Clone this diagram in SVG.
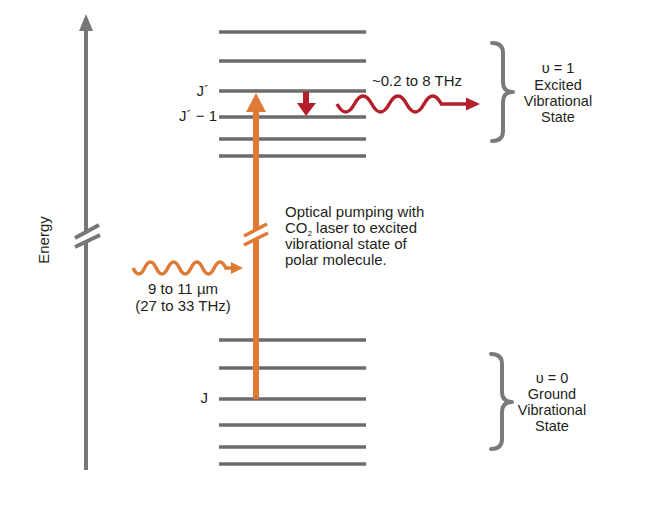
<svg xmlns="http://www.w3.org/2000/svg" width="650" height="525" viewBox="0 0 650 525">
<style>
.lvl{stroke:#6b6b6b;stroke-width:3.5;fill:none}
.ax{stroke:#777;stroke-width:4;fill:none}
.br{stroke:#7a7a7a;stroke-width:4;fill:none;stroke-linecap:round;stroke-linejoin:round}
.t{font-family:"Liberation Sans",Arial,sans-serif;font-size:15px;fill:#231f20}
.s{font-size:14.5px}
.c{text-anchor:middle}
.e{text-anchor:end}
.or{stroke:#de7a34;fill:none}
.rd{stroke:#b51f2c;fill:none}
</style>
<rect width="650" height="525" fill="#fff"/>
<g id="energy-axis">
<line class="ax" x1="86" y1="470" x2="86" y2="242"/>
<line class="ax" x1="86" y1="232" x2="86" y2="28"/>
<polygon points="79,31 86,14 93,31" fill="#777"/>
<line class="ax" x1="75" y1="238" x2="99" y2="225"/>
<line class="ax" x1="75" y1="247" x2="100" y2="235"/>
<text class="t c" transform="translate(49,240) rotate(-90)" font-size="13.5">Energy</text>
</g>
<g id="upper-levels">
<line class="lvl" x1="219" y1="32" x2="366" y2="32"/>
<line class="lvl" x1="219" y1="61" x2="366" y2="61"/>
<line class="lvl" x1="219" y1="91" x2="366" y2="91"/>
<line class="lvl" x1="219" y1="117" x2="366" y2="117"/>
<line class="lvl" x1="219" y1="139" x2="366" y2="139"/>
<line class="lvl" x1="219" y1="156" x2="366" y2="156"/>
<text class="t e" x="209" y="96" font-size="13.5">J´</text>
<text class="t e" x="217" y="121" font-size="13.5">J´ − 1</text>
</g>
<g id="lower-levels">
<line class="lvl" x1="219" y1="340" x2="366" y2="340"/>
<line class="lvl" x1="219" y1="368" x2="366" y2="368"/>
<line class="lvl" x1="219" y1="399" x2="366" y2="399"/>
<line class="lvl" x1="219" y1="425" x2="366" y2="425"/>
<line class="lvl" x1="219" y1="447" x2="366" y2="447"/>
<line class="lvl" x1="219" y1="464" x2="366" y2="464"/>
<text class="t e" x="208" y="403" font-size="13.5">J</text>
</g>
<g id="connectors">
<g id="pump-arrow">
<line class="or" stroke-width="6" x1="256" y1="399" x2="256" y2="240"/>
<line class="or" stroke-width="6" x1="256" y1="230" x2="256" y2="110"/>
<polygon points="246,112 256,93 266,112" fill="#de7a34"/>
<line class="or" stroke-width="3.5" x1="244" y1="236" x2="267" y2="224"/>
<line class="or" stroke-width="3.5" x1="244" y1="245" x2="268" y2="233"/>
</g>
<g id="decay-arrow">
<line class="rd" stroke-width="6" x1="306" y1="92" x2="306" y2="105"/>
<polygon points="297,103 316,103 306,116" fill="#b51f2c"/>
</g>
<g id="thz-wave">
<path class="rd" stroke-width="3.5" d="M337,104 q8.7,16 17.4,0 t17.4,0 t17.4,0 t17.4,0 t17.4,0 t17.4,0 L469,104"/>
<polygon points="466,97.5 480,104 466,110.5" fill="#b51f2c"/>
</g>
<g id="pump-wave">
<path class="or" stroke-width="3.5" d="M133,268 q5.8,12 11.6,0 t11.6,0 t11.6,0 t11.6,0 t11.6,0 t11.6,0 t11.6,0 t11.6,0 L233,268"/>
<polygon points="231,262 243,268 231,274" fill="#de7a34"/>
</g>
</g>
<g id="labels">
<text class="t c" x="417" y="86">~0.2 to 8 THz</text>
<text class="t c" x="183" y="294">9 to 11 µm</text>
<text class="t c" x="183" y="311">(27 to 33 THz)</text>
<text class="t" x="285" y="217">Optical pumping with</text>
<text class="t" x="285" y="233">CO<tspan font-size="8" dy="2.5">2</tspan><tspan dy="-2.5"> laser to excited</tspan></text>
<text class="t" x="285" y="249">vibrational state of</text>
<text class="t" x="285" y="265">polar molecule.</text>
</g>
<g id="excited-state">
<path class="br" d="M492,43 Q503,43 503,53 L503,82 Q503,92 513,92 Q503,92 503,102 L503,131 Q503,141 492,141"/>
<text class="t s c" x="558" y="73">υ = 1</text>
<text class="t s c" x="558" y="90">Excited</text>
<text class="t s c" x="558" y="106">Vibrational</text>
<text class="t s c" x="558" y="122">State</text>
</g>
<g id="ground-state">
<path class="br" d="M491,354 Q502,354 502,364 L502,392 Q502,402 512,402 Q502,402 502,412 L502,439 Q502,449 491,449"/>
<text class="t s c" x="552" y="383">υ = 0</text>
<text class="t s c" x="552" y="399">Ground</text>
<text class="t s c" x="552" y="415">Vibrational</text>
<text class="t s c" x="552" y="431">State</text>
</g>
</svg>
